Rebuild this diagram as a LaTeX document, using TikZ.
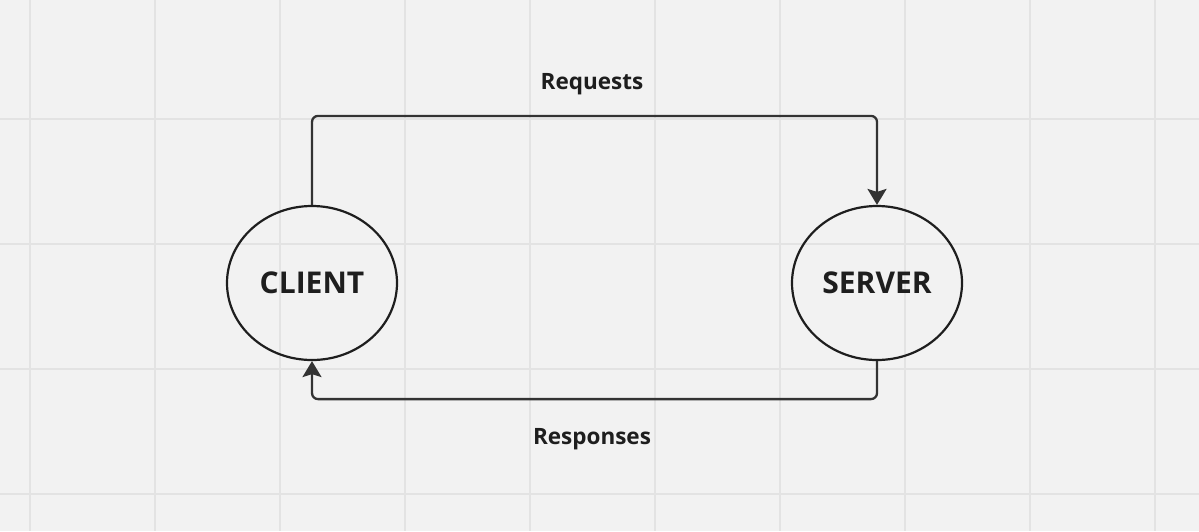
\documentclass[tikz,border=0pt]{standalone}
\usepackage{fontspec}
\setmainfont{Open Sans}
\usetikzlibrary{arrows.meta,shapes.geometric}
\definecolor{bgcol}{HTML}{F2F2F2}
\definecolor{gridcol}{HTML}{E3E3E3}
\definecolor{linecol}{HTML}{333333}
\definecolor{inkcol}{HTML}{1E1E1E}
\tikzset{
  peer/.style={draw=inkcol, line width=2.2pt, ellipse, minimum width=170pt, minimum height=154pt,
    inner sep=0pt, font=\fontsize{30}{34}\selectfont\bfseries, text=inkcol},
  flow/.style={draw=linecol, line width=2.3pt, rounded corners=6pt,
    -{Stealth[length=16pt,width=19pt,inset=3pt]}},
  caption/.style={font=\fontsize{22.5}{26}\selectfont\bfseries, text=inkcol}
}
\begin{document}
\begin{tikzpicture}[x=1pt, y=-1pt]
% Background
\fill[bgcol] (0,0) rectangle (1199,531);
\useasboundingbox (0,0) rectangle (1199,531);
\foreach \gx in {30,155,...,1155} \draw[gridcol, line width=2pt] (\gx,0) -- (\gx,531);
\foreach \gy in {119,244,...,494} \draw[gridcol, line width=2pt] (0,\gy) -- (1199,\gy);

\node[peer] (client) at (312,283) {CLIENT};
\node[peer] (server) at (877,283) {SERVER};

\draw[flow] (client.north) -- ++(0,-89) -| (server.north);
\draw[flow] (server.south) -- ++(0,38) -| (client.south);

\node[caption] (req) at (592,84) {Requests};
\node[caption] (resp) at (592,439) {Responses};
\end{tikzpicture}
\end{document}
